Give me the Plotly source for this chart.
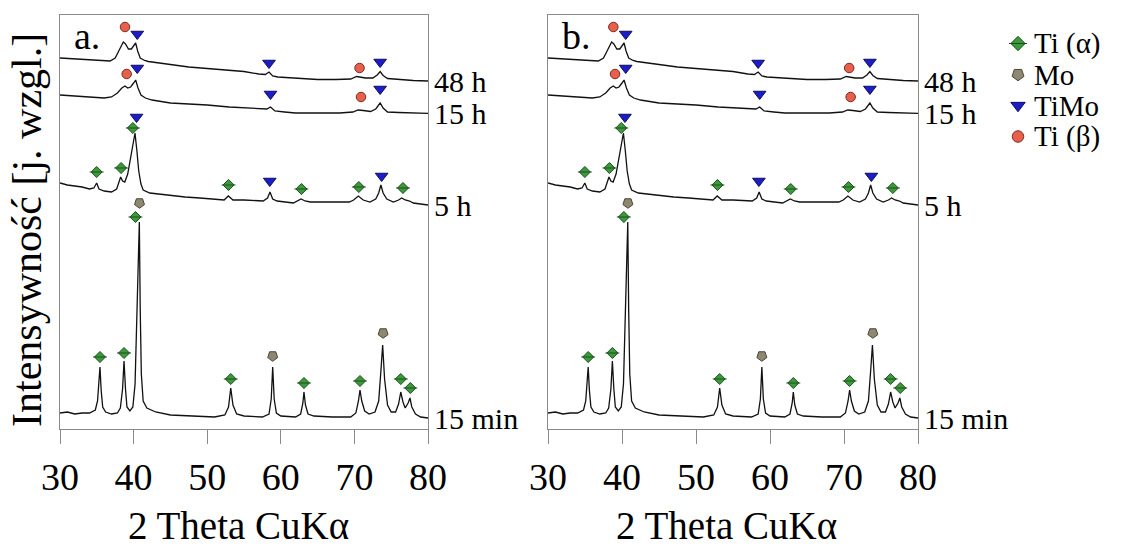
import plotly.graph_objects as go

# ---- XRD patterns (2θ [deg], intensity [arb. units, stacked]) ----
pattern_15min = [
    (30, 16), (31, 17), (32, 15), (33, 16), (34, 16), (34.8, 19), (35.1, 28), (35.3, 45),
    (35.43, 62), (35.6, 38), (35.8, 22), (36.2, 17), (37, 15), (37.8, 16), (38.2, 21),
    (38.5, 40), (38.7, 68), (38.9, 40), (39.1, 22), (39.5, 18), (39.9, 22), (40.2, 45),
    (40.45, 110), (40.6, 152), (40.7, 160), (40.78, 207), (40.9, 120), (41.05, 55),
    (41.3, 28), (41.8, 21), (43, 17), (45, 14), (48, 13), (51, 12), (52.4, 14), (52.9, 22),
    (53.2, 41), (53.5, 24), (54, 15), (55, 13), (57.5, 12), (58.4, 15), (58.7, 30),
    (58.9, 62), (59.1, 30), (59.4, 16), (60, 13), (62, 12), (62.7, 15), (63.0, 26),
    (63.15, 37), (63.35, 24), (63.7, 15), (64.5, 13), (67, 12), (69.5, 12), (70.2, 16),
    (70.55, 28), (70.76, 39), (71.0, 28), (71.4, 18), (72.0, 15), (72.8, 17), (73.3, 28),
    (73.6, 58), (73.84, 84), (74.1, 50), (74.5, 24), (75.0, 17), (75.6, 17), (76.0, 25),
    (76.3, 37), (76.6, 27), (76.9, 21), (77.3, 26), (77.55, 31), (77.8, 22), (78.3, 15),
    (79, 12), (80, 11),
]
pattern_5h = [
    (30, 246), (31, 244), (32, 243), (33, 242), (34, 240), (34.6, 241), (34.98, 246),
    (35.3, 240), (36, 238), (37, 237), (37.7, 240), (38.0, 246), (38.24, 252), (38.5, 248),
    (38.8, 247), (39.2, 255), (39.6, 272), (39.9, 288), (40.19, 296), (40.45, 278),
    (40.7, 258), (41.0, 245), (41.3, 239), (42.2, 236), (44.5, 234), (47, 232), (49, 231),
    (51, 230), (52.3, 229), (52.87, 233), (53.5, 229), (55, 229), (57.6, 228), (58.2, 231),
    (58.53, 237), (58.9, 230), (59.5, 228), (61.7, 226), (62.4, 229), (62.75, 230),
    (63.3, 228), (64, 227), (66, 227), (69.3, 227), (69.9, 229), (70.53, 233), (71.2, 229),
    (72.1, 227), (72.9, 230), (73.3, 236), (73.6, 244), (73.9, 236), (74.4, 230),
    (75.3, 227), (76.0, 229), (76.43, 231), (76.9, 229), (77.5, 228), (78, 226), (79, 225),
    (80, 224),
]
pattern_15h = [
    (30, 334), (32, 333), (34, 332), (36, 331), (37, 332), (37.8, 336), (38.4, 341),
    (38.83, 343), (39.2, 341), (39.6, 342), (40.0, 346), (40.28, 349), (40.6, 341),
    (41.0, 334), (41.6, 331), (42.5, 329), (45, 326), (48, 325), (50, 324), (53, 322),
    (55, 321), (57.5, 320), (58.1, 320), (58.6, 322), (59.2, 318), (60.5, 317), (62, 316),
    (65, 316), (68, 316), (69.8, 317), (70.5, 319), (71.2, 318.5), (72.2, 317.5),
    (72.9, 320), (73.5, 326), (73.9, 321), (74.5, 317), (76, 316.5), (78, 316), (80, 315.7),
]
pattern_48h = [
    (30, 371), (32, 370), (34, 369), (35.5, 368), (36.8, 368), (37.5, 371), (38.1, 380),
    (38.6, 387), (38.9, 385), (39.3, 380), (39.7, 380), (40.0, 383), (40.28, 386),
    (40.55, 378), (40.9, 371), (41.5, 368.5), (42, 367.5), (43.5, 366), (45, 364.5),
    (47.5, 362), (50, 360.5), (52.5, 359), (55, 357.5), (57, 355), (57.9, 354.5),
    (58.4, 357), (58.9, 353), (59.6, 352), (62, 351), (65, 349.5), (67.5, 349.5),
    (69.5, 350), (70.3, 352.5), (70.8, 352), (71.5, 351), (72.5, 351), (73.1, 354),
    (73.5, 357.5), (73.9, 353.5), (74.5, 350.5), (76, 349.5), (78, 348.5), (80, 348),
]
milling_times = ["15 min", "5 h", "15 h", "48 h"]
patterns = [pattern_15min, pattern_5h, pattern_15h, pattern_48h]

# ---- phase identification marks (2θ, intensity) ----
ti_alpha_peaks = [
    (35.43, 72), (38.7, 76), (40.25, 212), (53.2, 50), (63.15, 46), (70.76, 48),
    (76.3, 50), (77.6, 41),
    (34.98, 257), (38.3, 261), (39.9, 301), (52.9, 244), (62.8, 240), (70.6, 242),
    (76.6, 241),
]
mo_peaks = [(40.8, 226), (58.9, 73), (73.9, 96)]
timo_peaks = [
    (40.4, 312), (58.5, 248), (73.7, 253),
    (40.5, 361), (58.6, 335), (73.5, 340),
    (40.5, 395), (58.4, 366), (73.5, 367),
]
ti_beta_peaks = [(39.06, 355), (70.9, 332), (38.83, 402), (70.7, 361)]

phase_names = ["Ti (α)", "Mo", "TiMo", "Ti (β)"]
panel_names = ["a.", "b."]
x_ticks = [30, 40, 50, 60, 70, 80]

FONT = "Liberation Serif, Times New Roman, serif"
AXIS_GRAY = "#8a8a8a"

phase_styles = {
    "Ti (α)": dict(symbol="diamond", color="#3c9a3c", line="#1d4f1d", size=8.5, lsize=11),
    "Mo": dict(symbol="pentagon", color="#8e8870", line="#4a4638", size=10.5, lsize=12.5, angle=180),
    "TiMo": dict(symbol="triangle-down", color="#1c1cc8", line="#0e0e5a", size=11, lsize=12.5),
    "Ti (β)": dict(symbol="circle", color="#e8604c", line="#7a2a1e", size=9.5, lsize=11.5),
}
phase_marks = {
    "Ti (α)": ti_alpha_peaks,
    "Mo": mo_peaks,
    "TiMo": timo_peaks,
    "Ti (β)": ti_beta_peaks,
}

W, H = 1128, 546
panel_x_px = [(60, 428), (548, 918)]
plot_top_px, plot_bottom_px = 15, 429

fig = go.Figure()


def marker_trace(pts, style, xa, ya, size):
    xs, ys = zip(*pts)
    return go.Scatter(
        x=list(xs), y=list(ys), mode="markers", xaxis=xa, yaxis=ya,
        hoverinfo="skip", showlegend=False,
        marker=dict(symbol=style["symbol"], size=size, color=style["color"],
                    angle=style.get("angle", 0),
                    line=dict(color=style["line"], width=1)),
    )


def midline_trace(pts, style, xa, ya, size):
    xs, ys = zip(*pts)
    return go.Scatter(
        x=list(xs), y=list(ys), mode="markers", xaxis=xa, yaxis=ya,
        hoverinfo="skip", showlegend=False,
        marker=dict(symbol="line-ew", size=size * 0.9,
                    line=dict(color=style["line"], width=1)),
    )


for p, (xa, ya) in enumerate([("x", "y"), ("x2", "y2")]):
    for name, pat in zip(milling_times, patterns):
        xs, ys = zip(*pat)
        fig.add_trace(go.Scatter(
            x=list(xs), y=list(ys), mode="lines", xaxis=xa, yaxis=ya,
            line=dict(color="#111111", width=1.3), hoverinfo="skip", showlegend=False,
            name=name,
        ))
    for ph in phase_names:
        st = phase_styles[ph]
        fig.add_trace(marker_trace(phase_marks[ph], st, xa, ya, st["size"]))
        if ph == "Ti (α)":
            fig.add_trace(midline_trace(phase_marks[ph], st, xa, ya, st["size"] * 1.3))

    # curve labels at the right end of each pattern
    x_right = (panel_x_px[p][1] + 4) / W
    for name, pat in zip(milling_times, patterns):
        fig.add_annotation(
            x=x_right, xref="paper", y=pat[-1][1], yref=ya, text=name,
            showarrow=False, xanchor="left", yanchor="middle",
            font=dict(family=FONT, size=30, color="black"),
        )
    # panel letter
    fig.add_annotation(
        x=0.033, xref=f"{xa} domain", y=0.95, yref=f"{ya} domain", text=panel_names[p],
        showarrow=False, xanchor="left", yanchor="middle",
        font=dict(family=FONT, size=38, color="black"),
    )
    # x-axis title
    cx = (panel_x_px[p][0] + panel_x_px[p][1]) / 2 - 6
    fig.add_annotation(
        x=cx / W, xref="paper", y=-3 / H, yref="paper", text="2 Theta CuKα",
        showarrow=False, xanchor="center", yanchor="bottom",
        font=dict(family=FONT, size=39, color="black"),
    )

# y-axis title
fig.add_annotation(
    x=27 / W, xref="paper", y=(H - 230) / H, yref="paper",
    text="Intensywność [j. wzgl.]", textangle=-90, showarrow=False,
    xanchor="center", yanchor="middle", font=dict(family=FONT, size=42, color="black"),
)

# phase key on the right
key_rows = list(range(len(phase_names)))
for row, ph in zip(key_rows, phase_names):
    st = phase_styles[ph]
    fig.add_trace(marker_trace([(18, row)], st, "x3", "y3", st["lsize"]))
    if ph == "Ti (α)":
        fig.add_trace(midline_trace([(18, row)], st, "x3", "y3", st["lsize"] * 1.3))
    fig.add_annotation(
        x=32, xref="x3", y=row, yref="y3", text=ph, showarrow=False,
        xanchor="left", yanchor="middle", font=dict(family=FONT, size=29, color="black"),
    )

y_dom = [(H - plot_bottom_px) / H, (H - plot_top_px) / H]
common_x = dict(
    range=[30, 80], tickvals=x_ticks, ticks="outside", ticklen=14, tickwidth=1,
    tickcolor=AXIS_GRAY, showline=True, linecolor=AXIS_GRAY, linewidth=1, mirror=True,
    showgrid=False, zeroline=False, tickfont=dict(family=FONT, size=38, color="black"),
)
common_y = dict(
    range=[0, plot_bottom_px - plot_top_px], domain=y_dom, showticklabels=False,
    ticks="", showline=True, linecolor=AXIS_GRAY, linewidth=1, mirror=True,
    showgrid=False, zeroline=False,
)
fig.update_layout(
    width=W, height=H, autosize=False,
    margin=dict(l=0, r=0, t=0, b=0, autoexpand=False),
    paper_bgcolor="white", plot_bgcolor="white",
    xaxis=dict(domain=[panel_x_px[0][0] / W, panel_x_px[0][1] / W], anchor="y", **common_x),
    yaxis=dict(anchor="x", **common_y),
    xaxis2=dict(domain=[panel_x_px[1][0] / W, panel_x_px[1][1] / W], anchor="y2", **common_x),
    yaxis2=dict(anchor="x2", **common_y),
    xaxis3=dict(domain=[1000 / W, 1.0], range=[0, 128], visible=False, anchor="y3"),
    yaxis3=dict(domain=[(H - 152) / H, (H - 28) / H], range=[3.5, -0.5], visible=False,
                anchor="x3"),
    showlegend=False,
)

fig.write_html("out.html")
